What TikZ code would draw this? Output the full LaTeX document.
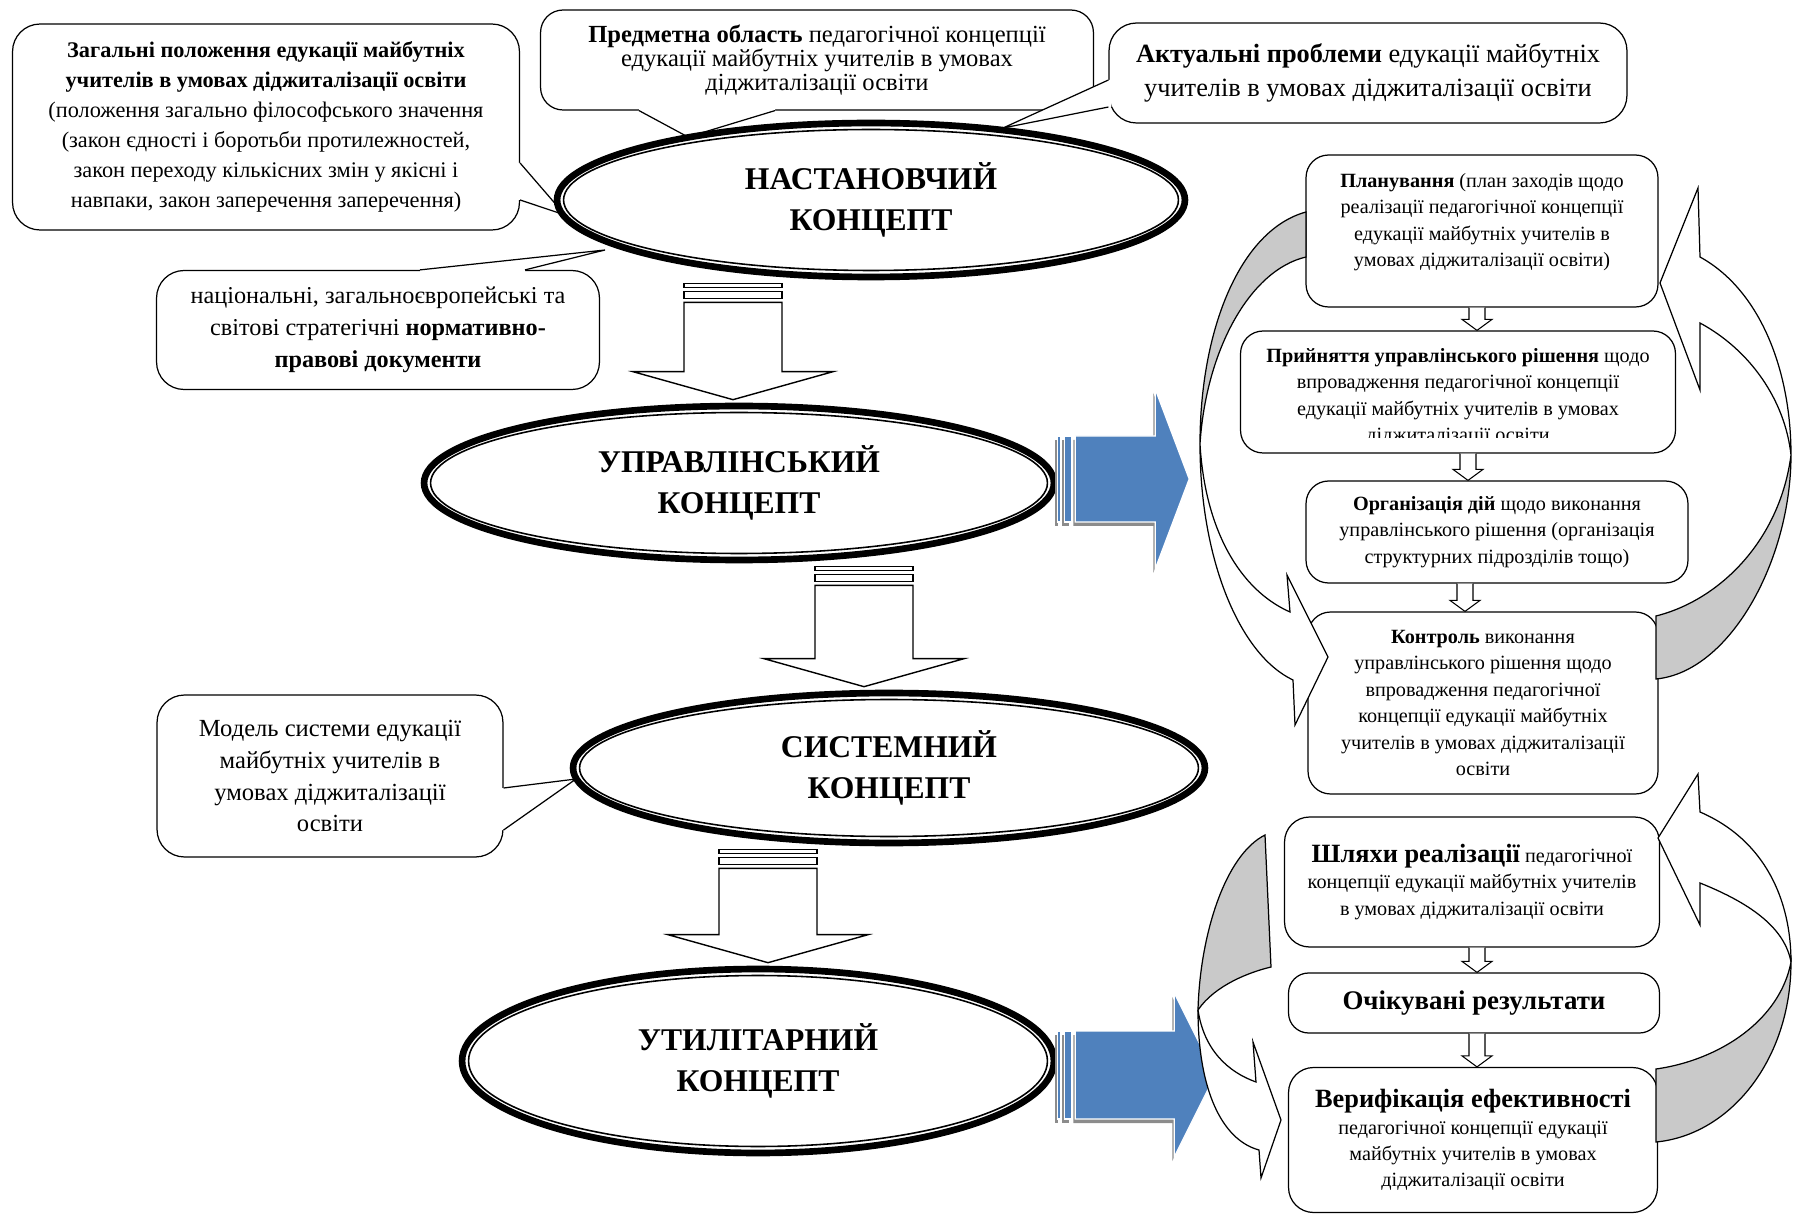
\documentclass[tikz,border=0pt]{standalone}
\usepackage{fontspec}
\setmainfont{Liberation Serif}
\usetikzlibrary{shapes.geometric,calc}

\definecolor{wordblue}{HTML}{4F81BD}
\definecolor{backgray}{HTML}{C9C9C9}

\tikzset{
  callout/.style={draw, line width=0.7pt, fill=white, rounded corners=0.55cm,
    inner sep=0pt, align=center},
  stepbox/.style={draw, line width=0.7pt, fill=white, rounded corners=0.45cm,
    inner sep=0pt, align=center, font=\fontsize{11.5}{15}\selectfont},
  steptext/.style={align=center, inner sep=0pt, font=\fontsize{11.5}{15}\selectfont},
  concept/.style={ellipse, draw, line width=3.8pt, fill=white, inner sep=0pt,
    align=center, font=\fontsize{18}{23}\selectfont\bfseries},
  innerring/.style={line width=0.9pt},
  wedgeline/.style={line width=0.7pt},
  bigarrow/.style={draw, line width=0.8pt, fill=white},
  smallarrow/.style={draw, line width=0.6pt, fill=white},
  ribbon/.style={draw, line width=0.7pt, fill=white},
  ribbonback/.style={draw, line width=0.7pt, fill=backgray},
  bluearrow/.style={fill=wordblue, draw=white, line width=0.8pt},
  blueshadow/.style={fill=black!45},
}

% callout pointer: two base points, tip, shift into the box
\newcommand{\pointerwedge}[4]{%
  \path (#1) coordinate (wa) (#2) coordinate (wb);
  \fill[white] ($(wa)+#4$) -- (wa) -- (#3) -- (wb) -- ($(wb)+#4$) -- cycle;
  \draw[wedgeline] (wa) -- (#3) -- (wb);
}

\begin{document}
\begin{tikzpicture}[x=0.02cm, y=-0.02cm]
    \useasboundingbox (0,0) rectangle (1800,1216);

    % Callouts
    \node[callout, minimum width=10.14cm, minimum height=4.12cm,
      font=\fontsize{12.7}{17}\selectfont] (general) at (266,127) {%
      \textbf{Загальні положення едукації майбутніх}\\
      \textbf{учителів в умовах діджиталізації освіти}\\
      (положення загально філософського значення\\
      (закон єдності і боротьби протилежностей,\\
      закон переходу кількісних змін у якісні і\\
      навпаки, закон заперечення заперечення)};
    \node[callout, minimum width=11.06cm, minimum height=2cm, rounded corners=0.45cm,
      font=\fontsize{14}{13.8}\selectfont] (subject) at (817,60) {%
      \textbf{Предметна область} педагогічної концепції\\
      едукації майбутніх учителів в умовах\\
      діджиталізації освіти};
    \node[callout, minimum width=10.36cm, minimum height=2cm,
      font=\fontsize{15}{19}\selectfont] (problems) at (1368,73) {%
      \textbf{Актуальні проблеми} едукації майбутніх\\
      учителів в умовах діджиталізації освіти};
    \node[callout, minimum width=8.86cm, minimum height=2.38cm,
      font=\fontsize{13.8}{18.2}\selectfont] (documents) at (378,330) {%
      національні, загальноєвропейські та\\
      світові стратегічні \textbf{нормативно-}\\
      \textbf{правові документи}};
    \node[callout, minimum width=6.92cm, minimum height=3.24cm,
      font=\fontsize{14}{18.2}\selectfont] (model) at (330,776) {%
      Модель системи едукації\\
      майбутніх учителів в\\
      умовах діджиталізації\\
      освіти};

    % Pointers of the callouts
    \pointerwedge{general.east |- 0,163}{general.east |- 0,200}{565,215}{(-3,0)}
    \pointerwedge{639,0 |- subject.south}{775,0 |- subject.south}{688,137}{(0,-3)}
    \pointerwedge{problems.west |- 0,80}{problems.west |- 0,107}{1003,128}{(3,0)}
    \pointerwedge{420,0 |- documents.north}{525,0 |- documents.north}{605,250}{(0,3)}
    \pointerwedge{model.east |- 0,788}{model.east |- 0,830}{576,779}{(-3,0)}

    % Concepts
    \node[concept, minimum width=12.56cm, minimum height=3.08cm] (nast) at (871,200)
      {НАСТАНОВЧИЙ\\КОНЦЕПТ};
    \node[concept, minimum width=12.6cm, minimum height=3.08cm] (upr) at (739,483)
      {УПРАВЛІНСЬКИЙ\\КОНЦЕПТ};
    \node[concept, minimum width=12.64cm, minimum height=3cm] (sys) at (889,768)
      {СИСТЕМНИЙ\\КОНЦЕПТ};
    \node[concept, minimum width=11.84cm, minimum height=3.68cm] (util) at (758,1061)
      {УТИЛІТАРНИЙ\\КОНЦЕПТ};
    \foreach \n/\rx/\ry in {nast/6.15/1.41, upr/6.17/1.41, sys/6.19/1.37, util/5.79/1.71}
      \draw[innerring] (\n.center) ellipse [x radius=\rx cm, y radius=\ry cm];

    % Striped arrows down between the concepts
    \foreach \a/\b/\x in {nast/upr/733, upr/sys/864, sys/util/768} {
      \path (\x,0 |- \a.south) coordinate (st) (\x,0 |- \b.north) coordinate (en);
      \path[bigarrow] ($(st)+(-49,3)$) rectangle ($(st)+(49,7)$);
      \path[bigarrow] ($(st)+(-49,11)$) rectangle ($(st)+(49,18)$);
      \path[bigarrow] ($(st)+(-49,22)$) -- ($(en)+(-49,-31)$) -- ($(en)+(-100,-31)$)
        -- ($(en)+(0,-3)$) -- ($(en)+(100,-31)$) -- ($(en)+(49,-31)$)
        -- ($(st)+(49,22)$) -- cycle;
    }

    % Blue arrows to the right
    \foreach \a/\dy/\bl/\hl/\bh/\hh in {upr/-4/98/132/43/90, util/14/117/158/44/82} {
      \foreach \st/\ox/\oy in {blueshadow/-2/4, bluearrow/0/0} {
        \begin{scope}[shift={($(\a.east)+(\ox,\dy+\oy)$)}]
          \path[\st] (0,-\bh) rectangle (3,\bh);
          \path[\st] (7,-\bh) rectangle (14,\bh);
          \path[\st] (18,-\bh) -- (\bl,-\bh) -- (\bl,-\hh) -- (\hl,0)
            -- (\bl,\hh) -- (\bl,\bh) -- (18,\bh) -- cycle;
        \end{scope}
      }
    }

    % Management cycle
    \node[stepbox, minimum width=7.04cm, minimum height=3.04cm] (plan) at (1482,231) {};
    \node[steptext] (plantext) at (1482,222) {%
      \textbf{Планування} (план заходів щодо\\
      реалізації педагогічної концепції\\
      едукації майбутніх учителів в\\
      умовах діджиталізації освіти)};
    \node[stepbox, minimum width=8.7cm, minimum height=2.44cm] (decide) at (1458,392) {};
    \begin{scope}
      \clip (1241,331) rectangle (1676,438);
      \node[steptext] (decidetext) at (1458,397) {%
        \textbf{Прийняття управлінського рішення} щодо\\
        впровадження педагогічної концепції\\
        едукації майбутніх учителів в умовах\\
        діджиталізації освіти};
    \end{scope}
    \node[stepbox, minimum width=7.64cm, minimum height=2.04cm] (organize) at (1497,532) {%
      \textbf{Організація дій} щодо виконання\\
      управлінського рішення (організація\\
      структурних підрозділів тощо)};
    \node[stepbox, minimum width=7cm, minimum height=3.64cm] (control) at (1483,703) {%
      \textbf{Контроль} виконання\\
      управлінського рішення щодо\\
      впровадження педагогічної\\
      концепції едукації майбутніх\\
      учителів в умовах діджиталізації\\
      освіти};

    % Realisation cycle
    \node[stepbox, minimum width=7.5cm, minimum height=2.6cm, rounded corners=0.5cm] (ways)
      at (1472,882) {%
      {\fontsize{15}{15}\selectfont\bfseries Шляхи реалізації} педагогічної\\
      концепції едукації майбутніх учителів\\
      в умовах діджиталізації освіти};
    \node[stepbox, minimum width=7.42cm, minimum height=1.2cm, rounded corners=0.4cm,
      font=\fontsize{15.3}{18}\selectfont\bfseries] (results) at (1474,1003)
      {Очікувані результати};
    \node[stepbox, minimum width=7.38cm, minimum height=2.9cm, rounded corners=0.5cm] (verify)
      at (1473,1140) {%
      {\fontsize{15}{18}\selectfont\bfseries Верифікація ефективності}\\
      педагогічної концепції едукації\\
      майбутніх учителів в умовах\\
      діджиталізації освіти};

    % Curved arrows of the first cycle
    \draw[ribbonback] (1306,212) .. controls (1240,230) and (1200,330) .. (1200,444)
      .. controls (1206,350) and (1250,270) .. (1306,257) -- cycle;
    \draw[ribbon] (1200,444) .. controls (1200,560) and (1240,655) .. (1293,680)
      -- (1295,725) -- (1328,657) -- (1287,575) -- (1290,612)
      .. controls (1240,590) and (1205,530) .. (1200,444) -- cycle;
    \draw[ribbon] (1700,323) -- (1700,390) -- (1660,283) -- (1698,188) -- (1700,257)
      .. controls (1760,290) and (1791,370) .. (1791,455)
      .. controls (1785,400) and (1750,350) .. (1700,323) -- cycle;
    \draw[ribbonback] (1791,455) .. controls (1791,560) and (1730,672) .. (1656,679)
      -- (1656,616) .. controls (1720,600) and (1780,540) .. (1791,455) -- cycle;

    % Curved arrows of the second cycle
    \draw[ribbonback] (1265,835) .. controls (1225,855) and (1200,935) .. (1198,1010)
      .. controls (1215,985) and (1250,972) .. (1271,967) -- cycle;
    \draw[ribbon] (1198,1010) .. controls (1198,1090) and (1222,1140) .. (1259,1150)
      -- (1261,1178) -- (1281,1120) -- (1253,1042) -- (1256,1082)
      .. controls (1228,1072) and (1204,1050) .. (1198,1010) -- cycle;
    \draw[ribbon] (1700,883) -- (1700,925) -- (1658,838) -- (1698,774) -- (1700,812)
      .. controls (1765,840) and (1791,900) .. (1791,962)
      .. controls (1785,930) and (1755,905) .. (1700,883) -- cycle;
    \draw[ribbonback] (1791,962) .. controls (1791,1060) and (1730,1135) .. (1656,1142)
      -- (1656,1069) .. controls (1720,1060) and (1780,1020) .. (1791,962) -- cycle;

    % Small arrows between the steps
    \foreach \a/\b/\x in {plan/decide/1477, decide/organize/1468, organize/control/1465,
        ways/results/1477, results/verify/1477} {
      \path (\x,0 |- \a.south) coordinate (st) (\x,0 |- \b.north) coordinate (en);
      \path[smallarrow] ($(st)+(-8,0)$) -- ($(en)+(-8,-11)$) -- ($(en)+(-15,-11)$) -- (en)
        -- ($(en)+(15,-11)$) -- ($(en)+(8,-11)$) -- ($(st)+(8,0)$);
    }
\end{tikzpicture}
\end{document}
